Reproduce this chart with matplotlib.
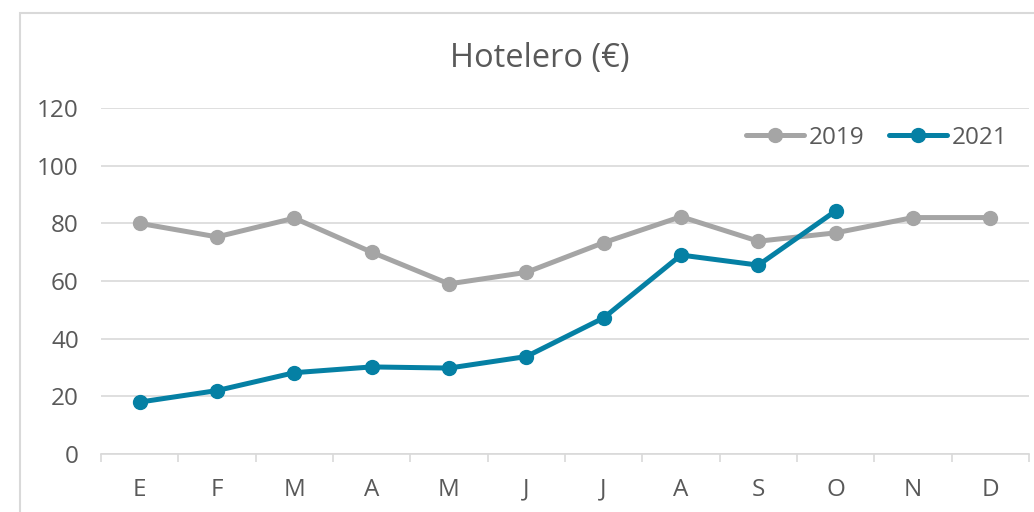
import matplotlib
matplotlib.use("Agg")
import matplotlib.pyplot as plt
from matplotlib.patches import Rectangle

months = ["E", "F", "M", "A", "M", "J", "J", "A", "S", "O", "N", "D"]
v2019 = [80.0, 75.3, 81.8, 70.0, 59.0, 63.0, 73.3, 82.3, 73.8, 76.7, 82.0, 82.0]
v2021 = [18.0, 22.0, 28.2, 30.2, 29.8, 33.8, 47.2, 69.0, 65.5, 84.3]
yticks = [0, 20, 40, 60, 80, 100, 120]

plt.rcParams['font.family'] = ['Open Sans', 'DejaVu Sans']
txt = '#595959'
c2019 = '#A5A5A5'
c2021 = '#0580A4'

fig = plt.figure(figsize=(10.34, 5.12), dpi=100)
fig.patches.append(Rectangle((20/1034, -0.1), 1.2, 1 - 13/512 + 0.1, transform=fig.transFigure,
                             fill=False, edgecolor='#D9D9D9', linewidth=1.5))
ax = fig.add_axes([101/1034, 1 - 454/512, (1029 - 101)/1034, (454 - 108)/512])

x = list(range(len(months)))
ax.plot(x, v2019, color=c2019, lw=3.6, marker='o', ms=10, label='2019', solid_capstyle='round', zorder=3)
ax.plot(x[:len(v2021)], v2021, color=c2021, lw=3.6, marker='o', ms=10, label='2021', solid_capstyle='round', zorder=4)

ax.set_xlim(-0.5, 11.5)
ax.set_ylim(0, 120)
ax.set_yticks(yticks)
ax.set_yticklabels([str(t) for t in yticks])
ax.grid(axis='y', color='#D9D9D9', lw=1.2)
ax.set_axisbelow(True)
for s in ['top', 'right', 'left']:
    ax.spines[s].set_visible(False)
ax.spines['bottom'].set_color('#D9D9D9')
ax.spines['bottom'].set_linewidth(1.2)
ax.set_xticks([i - 0.5 for i in range(13)])
ax.set_xticklabels([])
ax.tick_params(axis='x', which='major', length=6, color='#D9D9D9', width=1.2)
ax.set_xticks(x, minor=True)
ax.set_xticklabels(months, minor=True)
ax.tick_params(axis='x', which='minor', length=0, pad=17, labelsize=17.5, labelcolor=txt)
ax.tick_params(axis='y', length=0, pad=16, labelsize=17.5, labelcolor=txt)

fig.text(540/1034, 1 - 58/512, 'Hotelero (€)', ha='center', va='center', fontsize=23.5, color=txt)

leg = ax.legend(loc='center right', bbox_to_anchor=(0.993, 1 - (138 - 108)/346), ncol=2, frameon=False,
                fontsize=17.5, labelcolor=txt, handlelength=2.4, columnspacing=1.0, handletextpad=0.2,
                borderaxespad=0.2)

fig.savefig('out.png', dpi=100)
